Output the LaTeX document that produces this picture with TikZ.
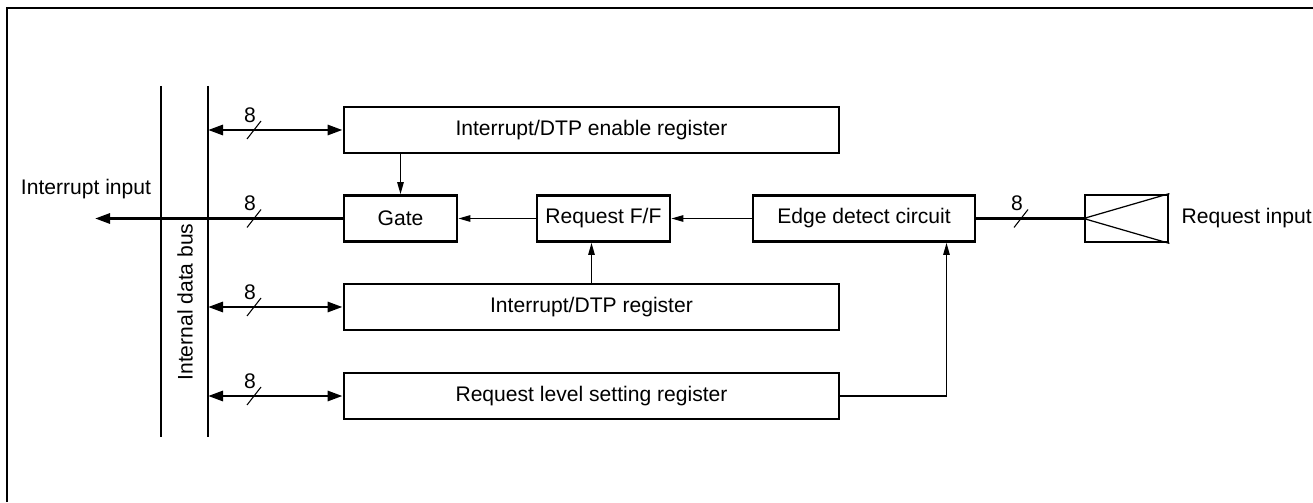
\documentclass[tikz,border=0pt]{standalone}
\usepackage{fontspec}
\setmainfont{Liberation Sans}
\usetikzlibrary{arrows.meta,positioning}
\begin{document}
\begin{tikzpicture}[line join=miter,>={Triangle[length=3mm,width=2mm]},font=\fontsize{12}{14}\selectfont]
	\tikzset{blk/.style={draw,line width=1.6pt,minimum height=0.92cm,inner sep=0pt},
		bus/.style={line width=1.6pt},
		sig/.style={line width=0.7pt,-{Triangle[length=2.4mm,width=1.3mm]}}}
	\useasboundingbox (0,0) rectangle (26.26,10.04);
	% frame
	\draw[line width=1.1pt] (0.14,0)--(0.14,9.88)--(26.26,9.88);
	% internal data bus
	\coordinate (busLt) at (3.22,8.32);
	\coordinate (busLb) at (3.22,1.30);
	\coordinate (busRt) at (4.16,8.32);
	\coordinate (busRb) at (4.16,1.30);
	\draw[bus] (busLt)--(busLb);
	\draw[bus] (busRt)--(busRb);
	\node[rotate=90] (buslbl) at (3.7,4.0) {Internal data bus};
	% blocks
	\node[blk,minimum width=9.9cm] (enreg) at (11.83,7.44) {Interrupt/DTP enable register};
	\node[blk,minimum width=2.26cm] (gate) at (8.01,5.67) {Gate};
	\node[blk,minimum width=2.66cm] (reqff) at (12.07,5.67) {Request F/F};
	\node[blk,minimum width=4.44cm] (edge) at (17.28,5.67) {Edge detect circuit};
	\node[blk,minimum width=1.66cm,minimum height=0.94cm] (pin) at (22.53,5.67) {};
	\node[right=0.12cm of pin] (reqin) {Request input};
	\node[blk,minimum width=9.9cm] (dtpreg) at (11.83,3.9) {Interrupt/DTP register};
	\node[blk,minimum width=9.9cm] (lvlreg) at (11.83,2.12) {Request level setting register};
	\draw[line width=0.7pt] (pin.west)--(pin.north east) (pin.west)--(pin.south east);
	% bus lines
	\foreach \b in {enreg,dtpreg,lvlreg}
	\draw[bus,<->] (\b.west -| busRt)--(\b.west);
	\coordinate (intout) at (1.9,5.67);
	\draw[bus,->] (gate.west)--(intout);
	\node (intlbl) at (1.72,6.25) {Interrupt input};
	\draw[bus] (edge.east)--(pin.west);
	% signals
	\draw[sig] (enreg.south -| gate)--(gate.north);
	\draw[sig] (reqff.west)--(gate.east);
	\draw[sig] (edge.west)--(reqff.east);
	\draw[sig] (dtpreg.north)--(dtpreg.north |- reqff.south);
	\coordinate (bend) at (18.93,2.12);
	\draw[sig] (lvlreg.east)--(bend)--(bend |- edge.south);
	% bus width marks
	\coordinate (s1) at (5.08,7.44);
	\coordinate (s2) at (5.08,5.67);
	\coordinate (s3) at (5.08,3.9);
	\coordinate (s4) at (5.08,2.12);
	\coordinate (s5) at (20.42,5.67);
	\foreach \s in {s1,s2,s3,s4,s5}{
		\draw[line width=0.6pt] ([shift={(-0.14,-0.18)}]\s)--([shift={(0.14,0.18)}]\s);
		\node (w\s) at ([shift={(-0.08,0.30)}]\s) {8};
	}
\end{tikzpicture}
\end{document}
